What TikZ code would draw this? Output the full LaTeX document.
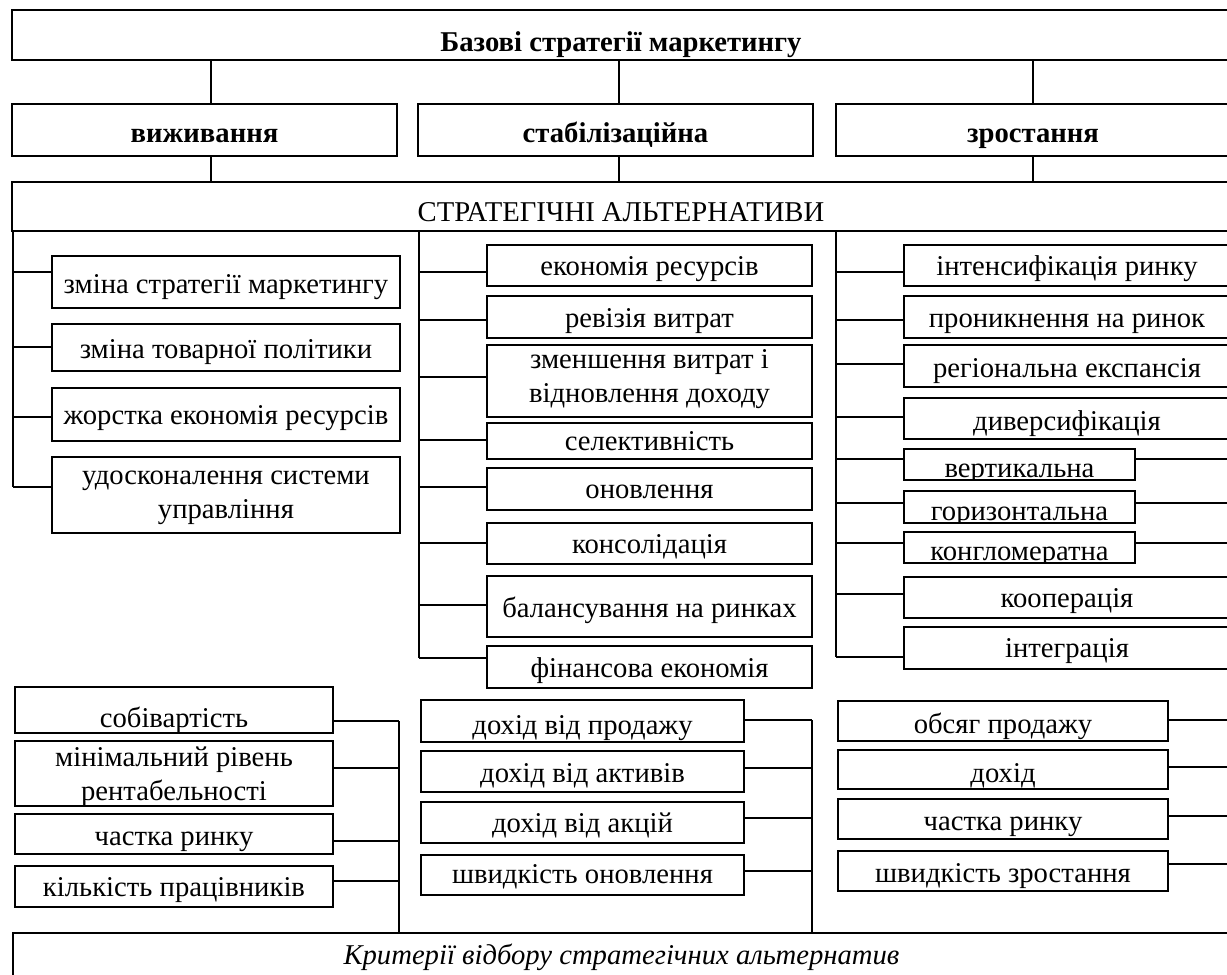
\documentclass[tikz,border=0pt]{standalone}
\usepackage{fontspec}
\setmainfont{Liberation Serif}
\tikzset{
  bx/.style={draw, line width=1.1pt, inner sep=0pt, align=center,
    font=\fontsize{21.5}{25}\selectfont},
  cut/.style={anchor=base, inner sep=0pt, font=\fontsize{21.5}{25}\selectfont},
  ln/.style={line width=1.1pt},
}
% #1 name, #2 x1, #3 y1, #4 x2, #5 y2, #6 baseline offset (px, last line), #7 text
\newcommand\bxnode[7]{%
  \pgfmathsetmacro\bxw{(#4-#2)*0.75}%
  \pgfmathsetmacro\bxh{(#5-#3)*0.75}%
  \pgfmathsetmacro\bxth{max(2*(#6),0)*0.75}%
  \pgfmathsetmacro\bxtd{max(-2*(#6),0)*0.75}%
  \node[bx, minimum width=\bxw pt, minimum height=\bxh pt,
    text height=\bxth pt, text depth=\bxtd pt] (#1) at ({(#2+#4)/2},{(#3+#5)/2}) {#7};%
}
\begin{document}
\begin{tikzpicture}[x=0.75pt,y=-0.75pt]
\useasboundingbox (0,0) rectangle (1227,974);
\clip (0,0) rectangle (1227,974);
% top levels
\bxnode{top}{12}{10}{1230}{60}{17}{\textbf{Базові стратегії маркетингу}}
\bxnode{s1}{12}{104}{397}{156}{12}{\textbf{виживання}}
\bxnode{s2}{418}{104}{813}{156}{12}{\textbf{стабілізаційна}}
\bxnode{s3}{836}{104}{1230}{156}{12}{\textbf{зростання}}
\bxnode{alt}{12}{182}{1230}{231}{15}{СТРАТЕГІЧНІ АЛЬТЕРНАТИВИ}
\coordinate (xa) at (211,0);
\coordinate (xb) at (619,0);
\coordinate (xc) at (1033,0);
\draw[ln] (top.south -| xa) -- (s1.north -| xa);
\draw[ln] (top.south -| xb) -- (s2.north -| xb);
\draw[ln] (top.south -| xc) -- (s3.north -| xc);
\draw[ln] (s1.south -| xa) -- (alt.north -| xa);
\draw[ln] (s2.south -| xb) -- (alt.north -| xb);
\draw[ln] (s3.south -| xc) -- (alt.north -| xc);
% left column
\bxnode{L1}{52}{256}{400}{308}{11}{зміна стратегії маркетингу}
\bxnode{L2}{52}{324}{400}{371}{10.5}{зміна товарної політики}
\bxnode{L3}{52}{388}{400}{441}{9.5}{жорстка економія ресурсів}
\bxnode{L4}{52}{457}{400}{533}{23}{удосконалення системи\\управління}
\coordinate (tL) at (13,231);
\coordinate (eL) at (13,487);
\draw[ln] (tL) -- (eL);
\foreach \n/\y in {L1/272,L2/347,L3/417,L4/487}
  \draw[ln] (13,\y) -- (\n.west |- 0,\y);
% middle column
\bxnode{M1}{487}{245}{812}{286}{9.5}{економія ресурсів}
\bxnode{M2}{487}{296}{812}{338}{10}{ревізія витрат}
\bxnode{M3}{487}{345}{812}{417}{21}{зменшення витрат і\\відновлення доходу}
\bxnode{M4}{487}{423}{812}{459}{9}{селективність}
\bxnode{M5}{487}{468}{812}{510}{9}{оновлення}
\bxnode{M6}{487}{523}{812}{564}{9.5}{консолідація}
\bxnode{M7}{487}{576}{812}{637}{10.5}{балансування на ринках}
\bxnode{M8}{487}{646}{812}{688}{10}{фінансова економія}
\coordinate (tM) at (419,231);
\coordinate (eM) at (419,658);
\draw[ln] (tM) -- (eM);
\foreach \n/\y in {M1/272,M2/320,M3/377,M4/440,M5/487,M6/543,M7/605,M8/658}
  \draw[ln] (419,\y) -- (\n.west |- 0,\y);
% right column
\bxnode{R1}{904}{245}{1230}{286}{9.5}{інтенсифікація ринку}
\bxnode{R2}{904}{296}{1230}{338}{10}{проникнення на ринок}
\bxnode{R3}{904}{345}{1230}{387}{11}{регіональна експансія}
\bxnode{R4}{904}{398}{1230}{439}{11.5}{диверсифікація}
\bxnode{R5}{904}{449}{1135}{480}{0}{}
\bxnode{R6}{904}{491}{1135}{523}{0}{}
\bxnode{R7}{904}{532}{1135}{563}{0}{}
\bxnode{R8}{904}{577}{1230}{618}{9.5}{кооперація}
\bxnode{R9}{904}{627}{1230}{669}{9}{інтеграція}
\foreach \n/\t in {R5/вертикальна,R6/горизонтальна,R7/конгломератна}{
  \begin{scope}
    \clip (\n.south west) rectangle (\n.north east);
    \node[cut] (\n t) at ([yshift=2.6pt]\n.south) {\t};
  \end{scope}
}
\coordinate (tR) at (836,231);
\coordinate (eR) at (836,657);
\draw[ln] (tR) -- (eR);
\foreach \n/\y in {R1/272,R2/320,R3/364,R4/417,R5/459,R6/503,R7/543,R8/594,R9/657}
  \draw[ln] (836,\y) -- (\n.west |- 0,\y);
\foreach \n/\y in {R5/459,R6/503,R7/543}{
  \coordinate (\n r) at (1240,\y);
  \draw[ln] (\n.east |- 0,\y) -- (\n r);
}
% criteria box
\bxnode{crit}{13}{933}{1230}{981}{7}{\textit{Критерії відбору стратегічних альтернатив}}
% bottom left group
\bxnode{B1}{15}{687}{333}{733}{17}{собівартість}
\bxnode{B2}{15}{741}{333}{806}{26.5}{мінімальний рівень\\рентабельності}
\bxnode{B3}{15}{814}{333}{854}{11}{частка ринку}
\bxnode{B4}{15}{866}{333}{907}{9.5}{кількість працівників}
\coordinate (tB) at (399,721);
\draw[ln] (tB) -- (crit.north -| tB);
\foreach \n/\y in {B1/721,B2/768,B3/841,B4/881}
  \draw[ln] (\n.east |- 0,\y) -- (399,\y);
% bottom middle group
\bxnode{C1}{421}{700}{744}{742}{13}{дохід від продажу}
\bxnode{C2}{421}{751}{744}{792}{10.5}{дохід від активів}
\bxnode{C3}{421}{802}{744}{843}{9.5}{дохід від акцій}
\bxnode{C4}{421}{855}{744}{895}{8}{швидкість оновлення}
\coordinate (tC) at (812,720);
\draw[ln] (tC) -- (crit.north -| tC);
\foreach \n/\y in {C1/720,C2/768,C3/818,C4/871}
  \draw[ln] (\n.east |- 0,\y) -- (812,\y);
% bottom right group
\bxnode{D1}{838}{701}{1168}{741}{12}{обсяг продажу}
\bxnode{D2}{838}{750}{1168}{789}{12.5}{дохід}
\bxnode{D3}{838}{799}{1168}{839}{11}{частка ринку}
\bxnode{D4}{838}{851}{1168}{891}{11}{швидкість зростання}
\foreach \n/\y in {D1/720,D2/767,D3/816,D4/864}{
  \coordinate (\n r) at (1240,\y);
  \draw[ln] (\n.east |- 0,\y) -- (\n r);
}
\end{tikzpicture}
\end{document}
